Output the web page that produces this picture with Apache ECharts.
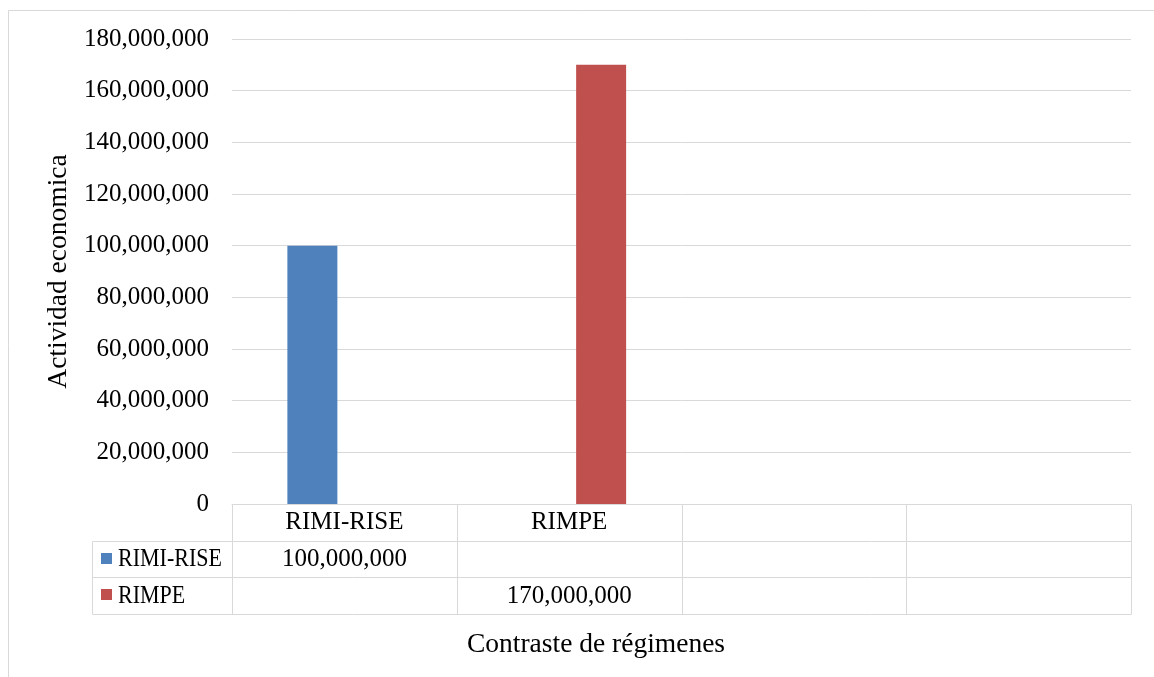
<!DOCTYPE html>
<html>
<head>
<meta charset="utf-8">
<script src="https://cdn.jsdelivr.net/npm/echarts@6/dist/echarts.min.js"></script>
<style>
html,body{margin:0;padding:0;background:#fff;}
#c{width:1154px;height:677px;}
</style>
</head>
<body>
<div id="c"></div>
<script>
// ---- data ----
const categories = ['RIMI-RISE', 'RIMPE', '', ''];
const seriesNames = ['RIMI-RISE', 'RIMPE'];
const rimiRiseValues = [100000000, null, null, null];
const rimpeValues = [null, 170000000, null, null];
const yMin = 0, yMax = 180000000, yInterval = 20000000;
const yTitle = 'Actividad economica';
const xTitle = 'Contraste de régimenes';

const seriesValues = [rimiRiseValues, rimpeValues];
const colors = ['#4f81bd', '#c0504d'];
const FONT = 'Liberation Serif';
const tickSize = 25, titleSize = 27.5;
const gridColor = '#d9d9d9';

const fmt = v => Math.round(v).toString().replace(/\B(?=(\d{3})+(?!\d))/g, ',');

const chart = echarts.init(document.getElementById('c'), null, {renderer: 'canvas'});

chart.setOption({
  animation: false,
  backgroundColor: '#fff',
  textStyle: {fontFamily: FONT, color: '#000'},
  grid: {left: 232, right: 23, top: 39, bottom: 173, containLabel: false},
  xAxis: {
    type: 'category',
    data: categories,
    axisLine: {show: true, lineStyle: {color: gridColor, width: 1}},
    axisTick: {show: false},
    axisLabel: {show: true, interval: 0, margin: 6, fontFamily: FONT, fontSize: tickSize, color: '#000'},
    splitLine: {show: false}
  },
  yAxis: {
    type: 'value',
    min: yMin, max: yMax, interval: yInterval,
    name: yTitle,
    nameLocation: 'middle',
    nameRotate: 90,
    nameGap: 156,
    nameTextStyle: {fontFamily: FONT, fontSize: titleSize, color: '#000'},
    axisLine: {show: false},
    axisTick: {show: false},
    axisLabel: {margin: 23, fontFamily: FONT, fontSize: tickSize, color: '#000', formatter: v => fmt(v),
      padding: [3, 0, 0, 0]},
    splitLine: {show: true, lineStyle: {color: gridColor, width: 1}}
  },
  series: seriesNames.map((name, i) => ({
    name: name,
    type: 'bar',
    data: seriesValues[i],
    barWidth: 50,
    barGap: '28%',
    itemStyle: {color: colors[i]}
  }))
});

function drawTable() {
  const y0 = Math.round(chart.convertToPixel({yAxisIndex: 0}, 0));
  const centers = categories.map((c, i) => chart.convertToPixel({xAxisIndex: 0}, i));
  const band = centers.length > 1 ? centers[1] - centers[0] : 200;
  const left = centers[0] - band / 2;
  const right = centers[centers.length - 1] + band / 2;
  const rowH = 36.5;
  const tableLeft = 92;
  const nRows = 1 + seriesNames.length;
  const bottom = y0 + rowH * nRows;
  const px = v => Math.round(v) + 0.5;
  const els = [];
  const line = (x1, y1, x2, y2) => els.push({
    type: 'line', silent: true,
    shape: {x1: px(x1), y1: px(y1), x2: px(x2), y2: px(y2)},
    style: {stroke: gridColor, lineWidth: 1}
  });
  // outer chart border
  els.push({type: 'rect', silent: true, shape: {x: 8.5, y: 10.5, width: 3000, height: 3000},
    style: {fill: null, stroke: gridColor, lineWidth: 1}});
  // horizontal lines of series rows
  for (let r = 1; r <= nRows; r++) line(tableLeft, y0 + rowH * r, right, y0 + rowH * r);
  // vertical lines
  line(tableLeft, y0 + rowH, tableLeft, bottom);
  for (let i = 0; i <= categories.length; i++) {
    const x = left + band * i;
    line(x, y0, x, bottom);
  }
  // legend keys and values
  seriesNames.forEach((name, s) => {
    const cy = y0 + rowH * (s + 1) + rowH / 2;
    els.push({type: 'rect', silent: true, shape: {x: 101, y: Math.round(cy - 6), width: 11, height: 11},
      style: {fill: colors[s]}});
    els.push({type: 'text', silent: true, x: 118, y: cy + 1, scaleX: 0.88,
      style: {text: name, font: tickSize + 'px "' + FONT + '"', fill: '#000', align: 'left', verticalAlign: 'middle'}});
    seriesValues[s].forEach((v, i) => {
      if (v == null) return;
      els.push({type: 'text', silent: true, x: centers[i], y: cy + 1,
        style: {text: fmt(v), font: tickSize + 'px "' + FONT + '"', fill: '#000', align: 'center', verticalAlign: 'middle'}});
    });
  });
  // x axis title
  els.push({type: 'text', silent: true, x: 596, y: 645,
    style: {text: xTitle, font: titleSize + 'px "' + FONT + '"', fill: '#000', align: 'center', verticalAlign: 'middle'}});
  chart.setOption({graphic: {elements: els}});
}
drawTable();
</script>
</body>
</html>
